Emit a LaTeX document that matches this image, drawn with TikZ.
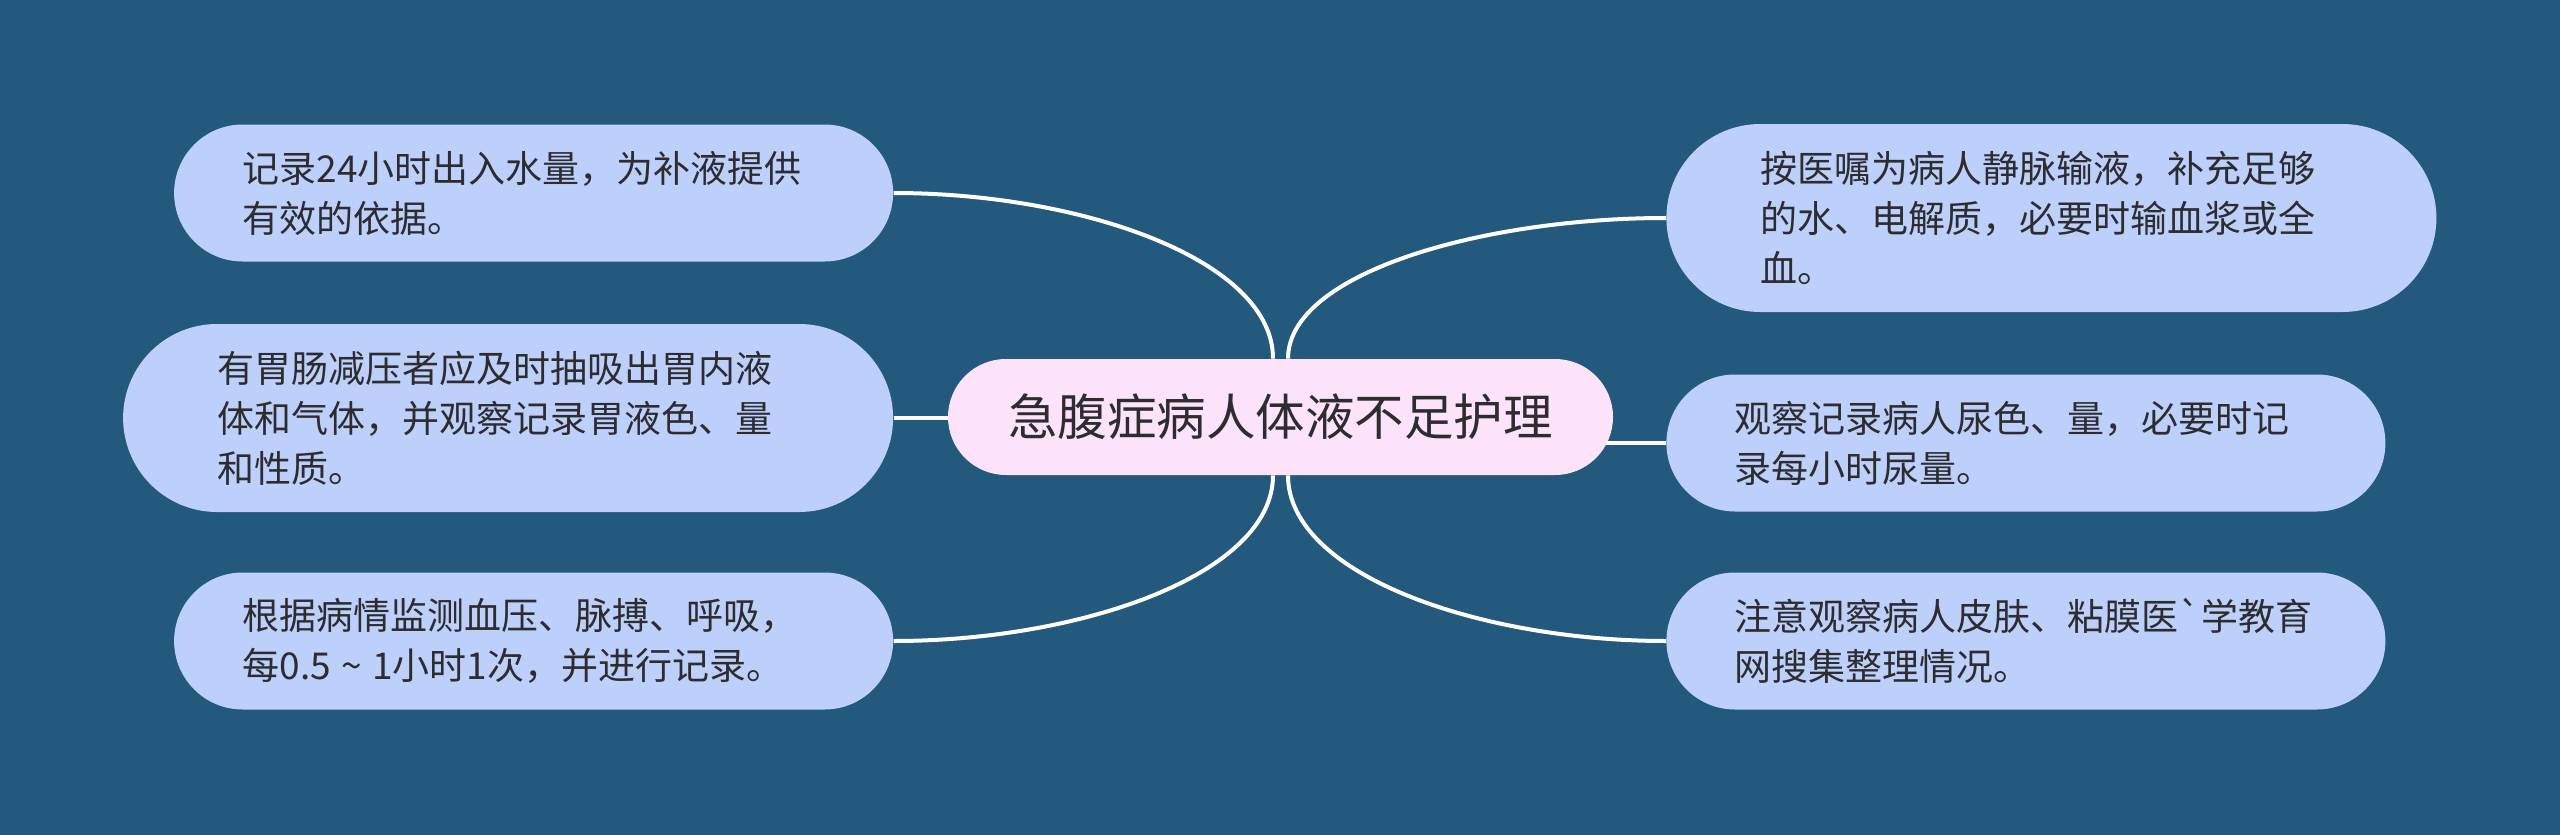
\documentclass[tikz,border=0pt]{standalone}
\usepackage{fontspec}
\setmainfont{Noto Sans CJK SC}[Ligatures=TeXOff]
\usetikzlibrary{backgrounds,calc}
\definecolor{bgblue}{RGB}{35,89,124}
\definecolor{leafblue}{RGB}{189,208,251}
\definecolor{hubpink}{RGB}{253,227,250}
\definecolor{inkgray}{RGB}{45,45,48}
\begin{document}
\begin{tikzpicture}[x=0.5pt, y=-0.5pt]
				\tikzstyle{Leaf} = [rectangle, fill=leafblue, text=inkgray, font=\fontsize{18.5pt}{25pt}\selectfont, text width=291pt, align=left, inner ysep=0pt]
				\tikzstyle{Two} = [Leaf, minimum height=68.5pt, inner xsep=34.25pt, rounded corners=34.25pt]
				\tikzstyle{Three} = [Leaf, minimum height=94pt, inner xsep=47pt, rounded corners=47pt]
				\tikzstyle{Hub} = [rectangle, fill=hubpink, text=inkgray, font=\fontsize{24.75pt}{30pt}\selectfont, minimum width=332.5pt, minimum height=58pt, inner sep=0pt, rounded corners=29pt]
				\tikzstyle{Link} = [draw=white, line width=2pt]
				\node (hub) at (1280.5,417) [Hub] {急腹症病人体液不足护理};
				\node (l1) at (893.5,193) [Two, anchor=east] {记录24小时出入水量，为补液提供\\有效的依据。};
				\node (l2) at (893.5,418) [Three, anchor=east] {有胃肠减压者应及时抽吸出胃内液\\体和气体，并观察记录胃液色、量\\和性质。};
				\node (l3) at (893.5,641) [Two, anchor=east] {根据病情监测血压、脉搏、呼吸，\\每0.5\;\textasciitilde\;1小时1次，并进行记录。};
				\node (r1) at (1666,218) [Three, anchor=west] {按医嘱为病人静脉输液，补充足够\\的水、电解质，必要时输血浆或全\\血。};
				\node (r2) at (1666,443) [Two, anchor=west] {观察记录病人尿色、量，必要时记\\录每小时尿量。};
				\node (r3) at (1666,641) [Two, anchor=west] {注意观察病人皮肤、粘膜医`学教育\\网搜集整理情况。};
				\begin{scope}[on background layer]
				\fill [bgblue] (0,0) rectangle (2560,835);
				\coordinate (hubnw) at ($(hub.north)+(-7.5,0)$);
				\coordinate (hubne) at ($(hub.north)+(7.5,0)$);
				\coordinate (hubsw) at ($(hub.south)+(-7.5,0)$);
				\coordinate (hubse) at ($(hub.south)+(7.5,0)$);
				\draw [Link] (l1.east) .. controls +(187,0) and +(0,-99) .. (hubnw);
				\draw [Link] (l2.east) -- (l2.east -| hub.center);
				\draw [Link] (l3.east) .. controls +(187,0) and +(0,99) .. (hubsw);
				\draw [Link] (hubne) .. controls +(0,-85) and +(-185,0) .. (r1.west);
				\draw [Link] (r2.west) -- (r2.west -| hub.center);
				\draw [Link] (hubse) .. controls +(0,99) and +(-187,0) .. (r3.west);
				\end{scope}
			\end{tikzpicture}
\end{document}
